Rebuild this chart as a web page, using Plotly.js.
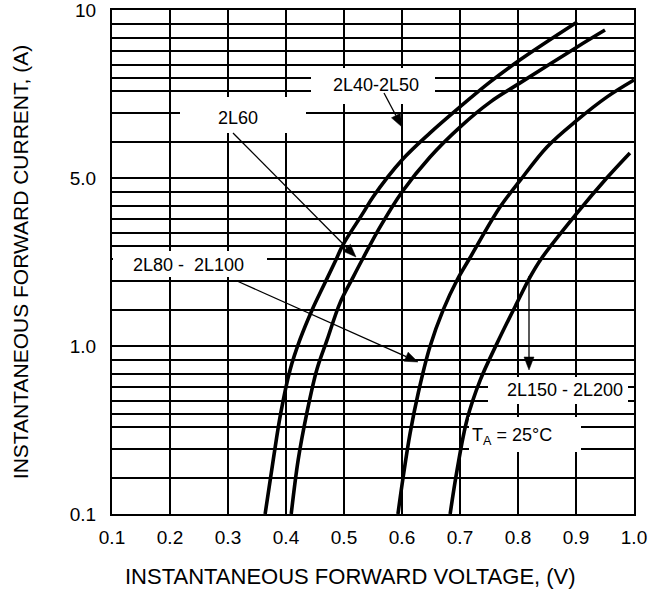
<!DOCTYPE html>
<html>
<head>
<meta charset="utf-8">
<script src="https://cdn.plot.ly/plotly-3.0.1.min.js"></script>
<style>html,body{margin:0;padding:0;background:#fff;}#chart{width:659px;height:592px;}</style>
</head>
<body>
<div id="chart"></div>
<script>
// ---- data ----
const c1Name = "2L40-2L50";
const c1V = [0.364, 0.378, 0.391, 0.407, 0.424, 0.445, 0.467, 0.486, 0.498, 0.533, 0.550, 0.600, 0.648, 0.700, 0.752, 0.803, 0.902];
const c1I = [0.1, 0.21, 0.40, 0.72, 1.09, 1.64, 2.37, 3.25, 3.99, 6.2, 7.71, 12.8, 18.5, 26.5, 37.3, 50.4, 84.9];

const c2Name = "2L60";
const c2V = [0.409, 0.421, 0.436, 0.453, 0.471, 0.493, 0.516, 0.533, 0.562, 0.600, 0.648, 0.700, 0.752, 0.803, 0.902, 0.950];
const c2I = [0.1, 0.21, 0.40, 0.72, 1.09, 1.80, 2.58, 3.34, 5.1, 8.26, 13.3, 20.1, 28.3, 36.7, 60.3, 76.0];

const c3Name = "2L80-2L100";
const c3V = [0.593, 0.602, 0.614, 0.628, 0.648, 0.671, 0.695, 0.717, 0.769, 0.803, 0.850, 0.902, 0.953, 1.0];
const c3I = [0.1, 0.166, 0.303, 0.525, 0.986, 1.64, 2.47, 3.34, 6.71, 9.6, 15.3, 22.1, 30.3, 38.3];

const c4Name = "2L150-2L200";
const c4V = [0.683, 0.695, 0.712, 0.735, 0.764, 0.798, 0.821, 0.841, 0.902, 0.953, 0.993];
const c4I = [0.1, 0.183, 0.363, 0.628, 1.04, 1.80, 2.58, 3.34, 6.2, 10.0, 14.1];

const xTickVals = [0.1, 0.2, 0.3, 0.4, 0.5, 0.6, 0.7, 0.8, 0.9, 1.0];
const xTickText = ["0.1", "0.2", "0.3", "0.4", "0.5", "0.6", "0.7", "0.8", "0.9", "1.0"];
const yLabelVals = [0.1, 1, 10, 100];
const yLabelText = ["0.1", "1.0", "5.0", "10"];
const yGridFactors = [1.64, 2.44, 3.28, 3.94, 4.71, 5.70, 6.85, 8.3];
const yDecades = [0.1, 1, 10];

const xTitle = "INSTANTANEOUS FORWARD VOLTAGE, (V)";
const yTitle = "INSTANTANEOUS FORWARD CURRENT, (A)";

// ---- build y ticks (labels + grid) ----
const yTickVals = [], yTickText = [];
yLabelVals.forEach((v, i) => { yTickVals.push(v); yTickText.push(yLabelText[i]); });
yDecades.forEach(d => yGridFactors.forEach(f => { yTickVals.push(d * f); yTickText.push(""); }));

// ---- layout helpers (plot-area pixel -> paper fraction) ----
const L = 112, R = 25, T = 10, B = 78, W = 659, H = 592;
const pw = W - L - R, ph = H - T - B;
const px = p => (p - L) / pw;
const py = p => (H - B - p) / ph;

const FONT = "Liberation Sans, Arial, Helvetica, sans-serif";
const lineStyle = {color: "#000", width: 3.6, shape: "spline", smoothing: 1.0};

const traces = [
  {x: c1V, y: c1I, name: c1Name},
  {x: c2V, y: c2I, name: c2Name},
  {x: c3V, y: c3I, name: c3Name},
  {x: c4V, y: c4I, name: c4Name}
].map(t => Object.assign(t, {type: "scatter", mode: "lines", line: lineStyle, hoverinfo: "skip"}));

// white boxes behind the labels (break the grid lines)
function box(x0, x1, y0, y1) {
  return {type: "rect", xref: "paper", yref: "paper", x0: px(x0), x1: px(x1), y0: py(y1), y1: py(y0),
          fillcolor: "#fff", line: {width: 0}, layer: "above"};
}
// arrow = thin shaft + filled triangular head
function arrowShapes(tipX, tipY, tailX, tailY) {
  const dx = tipX - tailX, dy = tipY - tailY, len = Math.hypot(dx, dy);
  const ux = dx / len, uy = dy / len, hl = 13, hw = 5;
  const bx = tipX - ux * hl, by = tipY - uy * hl;
  const p1 = [bx - uy * hw, by + ux * hw], p2 = [bx + uy * hw, by - ux * hw];
  return [
    {type: "line", xref: "paper", yref: "paper", x0: px(tailX), y0: py(tailY), x1: px(bx), y1: py(by),
     line: {color: "#000", width: 1.3}, layer: "above"},
    {type: "path", xref: "paper", yref: "paper",
     path: "M " + px(tipX) + "," + py(tipY) + " L " + px(p1[0]) + "," + py(p1[1]) + " L " + px(p2[0]) + "," + py(p2[1]) + " Z",
     fillcolor: "#000", line: {color: "#000", width: 0.5}, layer: "above"}
  ];
}
const shapes = [
  box(311, 435, 68, 104),
  box(180, 306, 97, 133),
  box(113, 267, 251, 277),
  box(488, 628, 377, 404),
  box(469, 581, 417, 452)
].concat(
  arrowShapes(402, 127, 384, 93),
  arrowShapes(356, 257, 233, 133),
  arrowShapes(418, 362, 237, 281),
  arrowShapes(529, 370, 529, 276)
);

function label(text, cx, cy, size) {
  return {text: text, xref: "paper", yref: "paper", x: px(cx), y: py(cy), showarrow: false,
          xanchor: "center", yanchor: "middle",
          font: {family: FONT, size: size || 18, color: "#000"}};
}
const annotations = [
  label("2L40-2L50", 376, 85),
  label("2L60", 238, 118),
  label("2L80 -  2L100", 188, 265),
  label("2L150 - 2L200", 565, 390),
  label("T<sub>A</sub> = 25°C", 512, 436),
  label(xTitle, 350, 576, 22)
];

const layout = {
  width: W, height: H,
  margin: {l: L, r: R, t: T, b: B, pad: 0},
  paper_bgcolor: "#fff", plot_bgcolor: "#fff",
  showlegend: false,
  font: {family: FONT, color: "#000"},
  xaxis: {
    range: [0.1, 1.0], tickmode: "array", tickvals: xTickVals, ticktext: xTickText,
    showgrid: true, gridcolor: "#000", gridwidth: 2, zeroline: false,
    showline: true, mirror: true, linecolor: "#000", linewidth: 2,
    ticks: "", ticklabelstandoff: 5, ticklabeloverflow: "allow",
    tickfont: {family: FONT, size: 19, color: "#000"}
  },
  yaxis: {
    type: "log", range: [-1, 2], tickmode: "array", tickvals: yTickVals, ticktext: yTickText,
    showgrid: true, gridcolor: "#000", gridwidth: 2, zeroline: false,
    showline: true, mirror: true, linecolor: "#000", linewidth: 2,
    ticks: "", ticklabelstandoff: 10, ticklabeloverflow: "allow",
    tickfont: {family: FONT, size: 19, color: "#000"},
    title: {text: yTitle, font: {family: FONT, size: 21, color: "#000"}, standoff: 35}
  },
  shapes: shapes,
  annotations: annotations
};

Plotly.newPlot("chart", traces, layout, {displayModeBar: false, staticPlot: true});
</script>
</body>
</html>
